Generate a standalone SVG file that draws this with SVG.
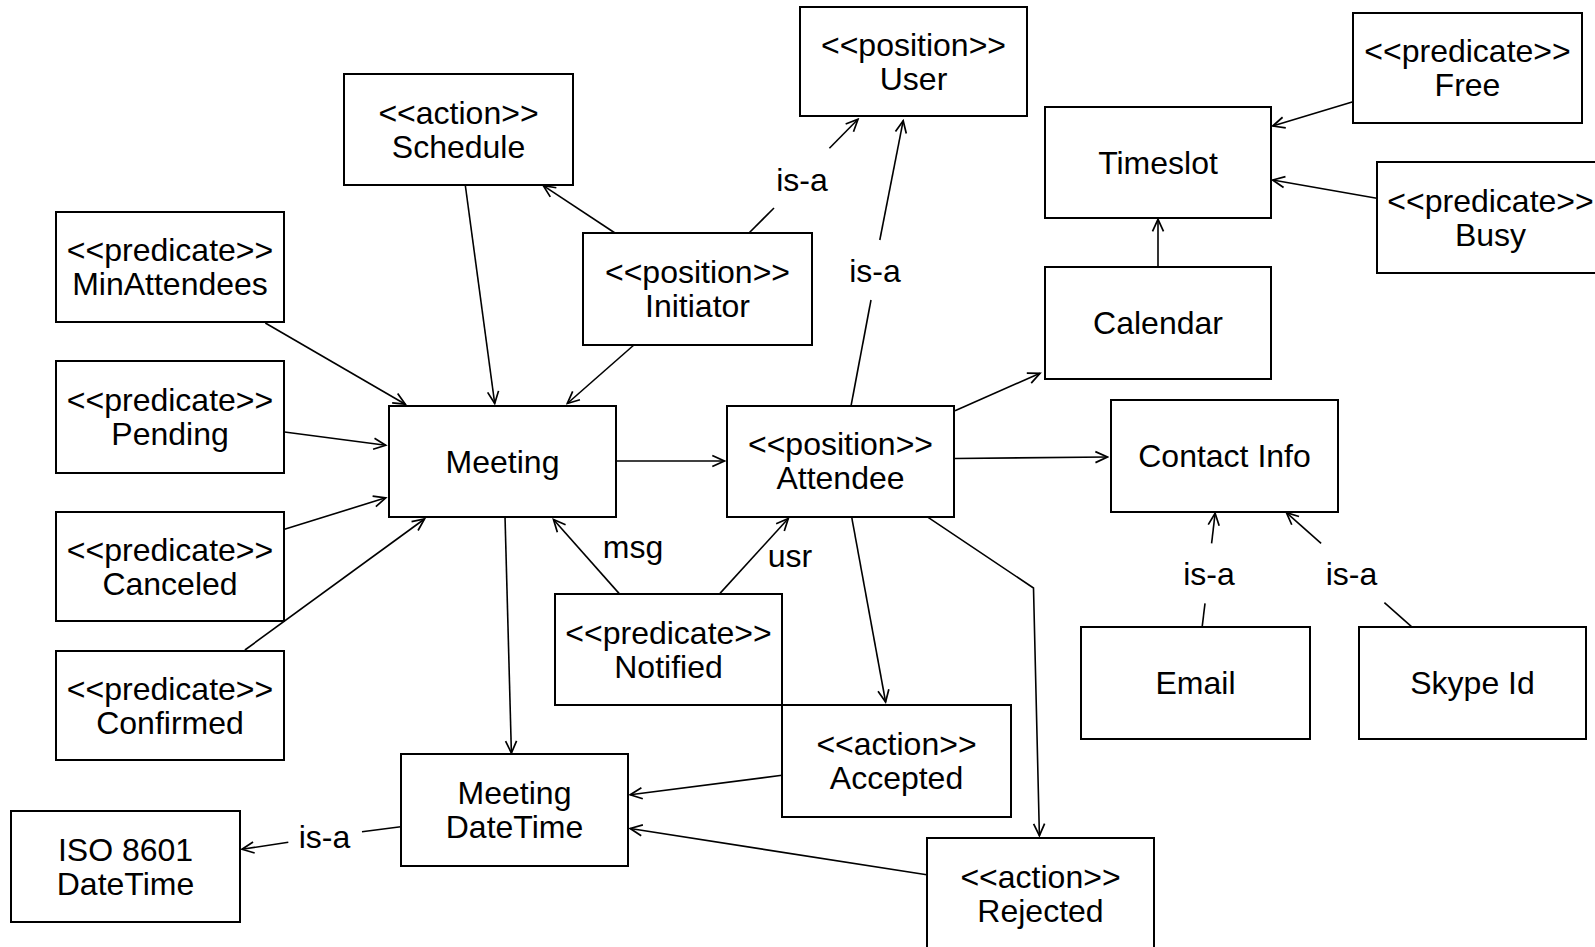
<svg xmlns="http://www.w3.org/2000/svg" width="1595" height="947" viewBox="0 0 1595 947">
<style>
.box{fill:#fff;stroke:#000;stroke-width:2}
.t{font-family:"Liberation Sans",Arial,Helvetica,sans-serif;font-size:32px;fill:#000;text-anchor:middle}
.c{fill:none;stroke:#000;stroke-width:1.6}
.a{marker-end:url(#arr)}
</style>
<defs>
<marker id="arr" viewBox="-14 -8 16 16" refX="0" refY="0" markerWidth="16" markerHeight="16" markerUnits="userSpaceOnUse" orient="auto">
<path d="M-12,-5.5 L0,0 L-12,5.5" fill="none" stroke="#000" stroke-width="1.7"/>
</marker>
</defs>
<rect width="1595" height="947" fill="#fff"/>
<g id="connectors">
<line class="c a" x1="465" y1="183" x2="494.7" y2="403.5"/>
<line class="c a" x1="615" y1="233" x2="543.3" y2="185.7"/>
<line class="c a" x1="633.9" y1="345" x2="567.3" y2="403.5"/>
<line class="c" x1="749" y1="233" x2="774" y2="208"/>
<line class="c a" x1="829.4" y1="148.3" x2="858" y2="119.3"/>
<line class="c" x1="851" y1="406" x2="871" y2="300"/>
<line class="c a" x1="879.8" y1="240" x2="903.2" y2="120.7"/>
<line class="c a" x1="265.3" y1="323" x2="405.3" y2="404.2"/>
<line class="c a" x1="284.5" y1="432" x2="385.7" y2="445.3"/>
<line class="c a" x1="284.5" y1="529.3" x2="385.7" y2="497.8"/>
<line class="c a" x1="244.9" y1="650" x2="424.5" y2="519"/>
<line class="c a" x1="505" y1="516.3" x2="511.4" y2="753"/>
<line class="c a" x1="616.3" y1="461" x2="724.3" y2="461"/>
<line class="c a" x1="619" y1="593.4" x2="553.5" y2="519.5"/>
<line class="c a" x1="720" y1="593.4" x2="788.3" y2="518.5"/>
<line class="c a" x1="955" y1="410.7" x2="1040" y2="373.3"/>
<line class="c a" x1="954.4" y1="458.5" x2="1107.4" y2="457"/>
<line class="c a" x1="851.6" y1="516.7" x2="885.6" y2="702"/>
<polyline class="c a" points="925.5,515.6 1033.5,588 1039.4,835.7"/>
<line class="c a" x1="782" y1="775.3" x2="630.2" y2="794.8"/>
<line class="c a" x1="926.7" y1="874.8" x2="630.2" y2="828.5"/>
<line class="c" x1="400.7" y1="826.7" x2="362" y2="831.7"/>
<line class="c a" x1="288.3" y1="842.3" x2="242" y2="849.3"/>
<line class="c a" x1="1158" y1="266.7" x2="1158" y2="219.3"/>
<line class="c a" x1="1353" y1="101.7" x2="1272.7" y2="126"/>
<line class="c a" x1="1376.7" y1="198.3" x2="1272.7" y2="180"/>
<line class="c" x1="1202.2" y1="626.7" x2="1205" y2="603.3"/>
<line class="c a" x1="1211.6" y1="543.3" x2="1215.1" y2="513.3"/>
<line class="c" x1="1411.5" y1="626.7" x2="1384.4" y2="602.7"/>
<line class="c a" x1="1321.1" y1="543.3" x2="1286.4" y2="512.7"/>
<text class="t" x="802" y="191">is-a</text>
<text class="t" x="875" y="282">is-a</text>
<text class="t" x="633" y="558">msg</text>
<text class="t" x="790" y="567">usr</text>
<text class="t" x="324.5" y="848">is-a</text>
<text class="t" x="1209" y="585">is-a</text>
<text class="t" x="1351.5" y="585">is-a</text>
</g>
<g id="user"><rect class="box" x="800" y="7" width="227" height="109"/><text class="t"><tspan x="913.5" y="55.5">&lt;&lt;position&gt;&gt;</tspan><tspan x="913.5" y="89.5">User</tspan></text></g>
<g id="schedule"><rect class="box" x="344" y="74" width="229" height="111"/><text class="t"><tspan x="458.5" y="123.5">&lt;&lt;action&gt;&gt;</tspan><tspan x="458.5" y="157.5">Schedule</tspan></text></g>
<g id="initiator"><rect class="box" x="583" y="233" width="229" height="112"/><text class="t"><tspan x="697.5" y="283">&lt;&lt;position&gt;&gt;</tspan><tspan x="697.5" y="317">Initiator</tspan></text></g>
<g id="free"><rect class="box" x="1353" y="13" width="229" height="110"/><text class="t"><tspan x="1467.5" y="62">&lt;&lt;predicate&gt;&gt;</tspan><tspan x="1467.5" y="96">Free</tspan></text></g>
<g id="timeslot"><rect class="box" x="1045" y="107" width="226" height="111"/><text class="t" x="1158" y="173.5">Timeslot</text></g>
<g id="busy"><rect class="box" x="1377" y="162" width="227" height="111"/><text class="t"><tspan x="1490.5" y="211.5">&lt;&lt;predicate&gt;&gt;</tspan><tspan x="1490.5" y="245.5">Busy</tspan></text></g>
<g id="calendar"><rect class="box" x="1045" y="267" width="226" height="112"/><text class="t" x="1158" y="334">Calendar</text></g>
<g id="minattendees"><rect class="box" x="56" y="212" width="228" height="110"/><text class="t"><tspan x="170" y="261">&lt;&lt;predicate&gt;&gt;</tspan><tspan x="170" y="295">MinAttendees</tspan></text></g>
<g id="pending"><rect class="box" x="56" y="361" width="228" height="112"/><text class="t"><tspan x="170" y="411">&lt;&lt;predicate&gt;&gt;</tspan><tspan x="170" y="445">Pending</tspan></text></g>
<g id="canceled"><rect class="box" x="56" y="512" width="228" height="109"/><text class="t"><tspan x="170" y="560.5">&lt;&lt;predicate&gt;&gt;</tspan><tspan x="170" y="594.5">Canceled</tspan></text></g>
<g id="confirmed"><rect class="box" x="56" y="651" width="228" height="109"/><text class="t"><tspan x="170" y="699.5">&lt;&lt;predicate&gt;&gt;</tspan><tspan x="170" y="733.5">Confirmed</tspan></text></g>
<g id="meeting"><rect class="box" x="389" y="406" width="227" height="111"/><text class="t" x="502.5" y="472.5">Meeting</text></g>
<g id="attendee"><rect class="box" x="727" y="406" width="227" height="111"/><text class="t"><tspan x="840.5" y="455">&lt;&lt;position&gt;&gt;</tspan><tspan x="840.5" y="489">Attendee</tspan></text></g>
<g id="contactinfo"><rect class="box" x="1111" y="400" width="227" height="112"/><text class="t" x="1224.5" y="467">Contact Info</text></g>
<g id="notified"><rect class="box" x="555" y="594" width="227" height="111"/><text class="t"><tspan x="668.5" y="643.5">&lt;&lt;predicate&gt;&gt;</tspan><tspan x="668.5" y="677.5">Notified</tspan></text></g>
<g id="accepted"><rect class="box" x="782" y="705" width="229" height="112"/><text class="t"><tspan x="896.5" y="755">&lt;&lt;action&gt;&gt;</tspan><tspan x="896.5" y="789">Accepted</tspan></text></g>
<g id="email"><rect class="box" x="1081" y="627" width="229" height="112"/><text class="t" x="1195.5" y="694">Email</text></g>
<g id="skypeid"><rect class="box" x="1359" y="627" width="227" height="112"/><text class="t" x="1472.5" y="694">Skype Id</text></g>
<g id="meetingdatetime"><rect class="box" x="401" y="754" width="227" height="112"/><text class="t"><tspan x="514.5" y="804">Meeting</tspan><tspan x="514.5" y="838">DateTime</tspan></text></g>
<g id="iso8601"><rect class="box" x="11" y="811" width="229" height="111"/><text class="t"><tspan x="125.5" y="860.5">ISO 8601</tspan><tspan x="125.5" y="894.5">DateTime</tspan></text></g>
<g id="rejected"><rect class="box" x="927" y="838" width="227" height="111"/><text class="t"><tspan x="1040.5" y="887.5">&lt;&lt;action&gt;&gt;</tspan><tspan x="1040.5" y="921.5">Rejected</tspan></text></g>
</svg>
